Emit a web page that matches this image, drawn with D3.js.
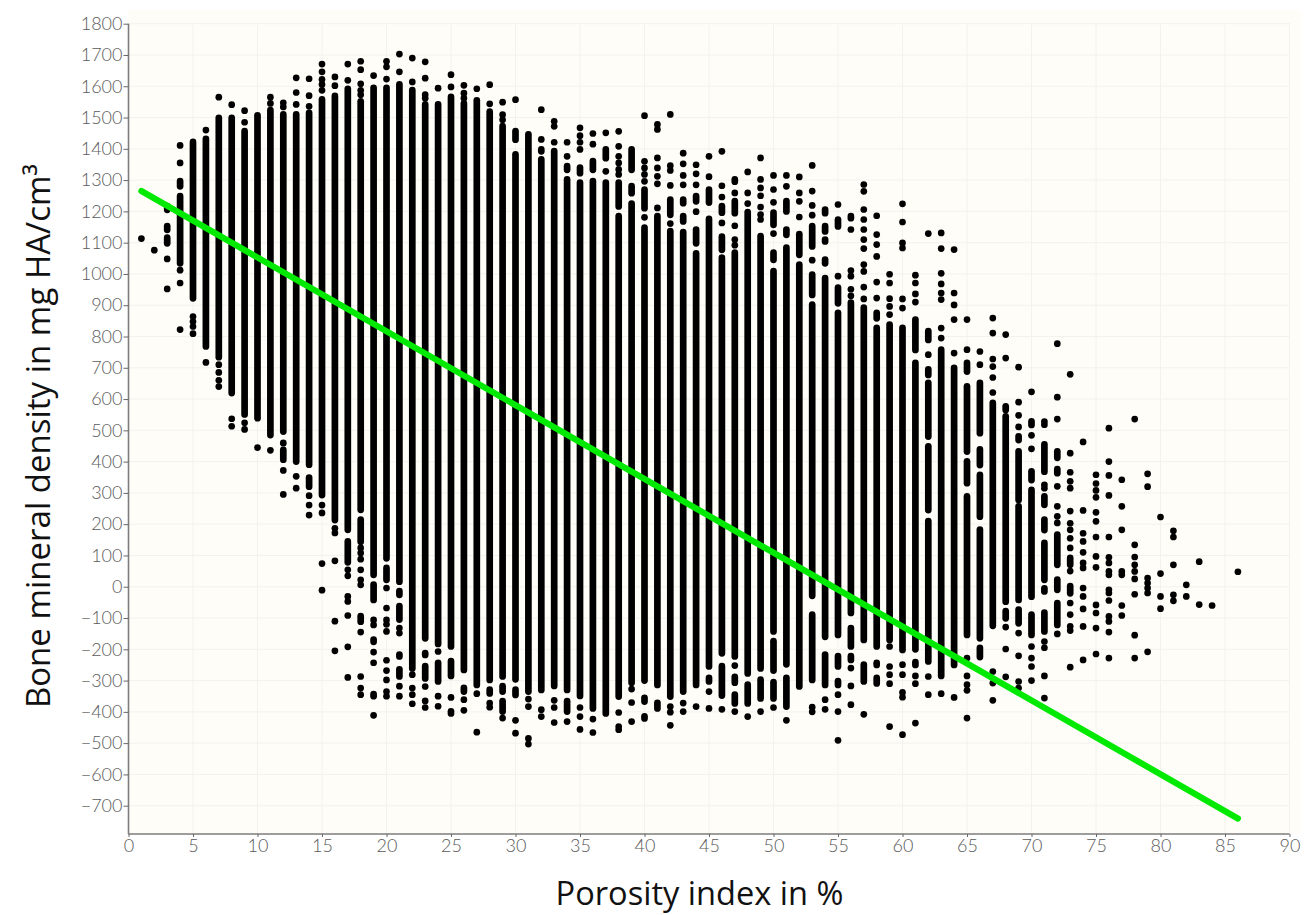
<!DOCTYPE html>
<html><head><meta charset="utf-8">
<script src="https://cdn.jsdelivr.net/npm/d3@7"></script>
<style>html,body{margin:0;background:#fff}svg{display:block}</style></head>
<body><svg id="c" width="1310" height="915"></svg>
<script>
const xTicks=d3.range(0,91,5);
const yTicks=d3.range(-700,1801,100);
const xTitle="Porosity index in %";
const yTitle="Bone mineral density in mg HA/cm³";
const regressionX=[1,86];
const regressionY=[1265,-741];
// solid runs of overlapping points: [porosity, low, high]
const runs=[
[3,1205,1217],[3,1141,1153],[3,1098,1116],[4,1280,1297],[4,1034,1249],[5,922,1422],[6,768,1432],[7,734,1499],[8,619,1499],[9,551,1457],[10,539,1507],[11,485,1524],
[12,496,1510],[12,459,460],[12,406,438],[13,400,1510],[14,390,1515],[14,320,349],[15,293,1558],[16,213,1569],[17,182,1592],[17,78,145],
[18,246,1552],[18,144,215],[18,-112,-94],[19,38,1595],[19,-42,7],[19,-176,-169],[20,91,1595],[20,22,60],[21,16,1606],[21,-26,-14],[21,-105,-62],[21,-223,-217],[21,-287,-264],
[22,-261,1588],[23,-165,1542],[23,-218,-212],[23,-293,-254],[24,-183,1542],[24,-303,-243],[25,-191,1566],[25,-285,-238],[26,-266,1545],[26,-335,-323],
[27,-314,1555],[28,-298,1519],[28,-341,-329],[29,-287,1473],[29,-335,-318],[29,-399,-366],[30,1429,1457],[30,-296,1382],[30,-346,-329],[31,-335,1446],
[32,1392,1398],[32,-330,1366],[33,-317,1393],[34,1333,1345],[34,-330,1302],[34,-399,-366],[35,1322,1340],[35,-349,1292],[36,1333,1361],[36,-389,1297],
[37,1370,1398],[37,-405,1292],[38,1216,1292],[38,-351,1185],[39,1333,1398],[39,1258,1281],[39,-307,1225],[40,1210,1270],[40,-300,1148],[40,-367,-355],[40,-421,-414],
[41,-314,1185],[41,-389,-371],[42,1189,1238],[42,-351,1137],[43,1226,1238],[43,1168,1185],[43,-335,1134],[44,1232,1249],[44,1098,1142],[44,-314,1066],
[45,1228,1270],[45,-255,1176],[45,-303,-291],[46,1196,1217],[46,1077,1119],[46,-213,1052],[46,-348,-254],[47,1295,1302],[47,1194,1233],[47,-223,1068],[47,-307,-288],[47,-373,-345],
[48,-277,1198],[48,-373,-313],[49,-261,1121],[49,-357,-297],[50,1157,1196],[50,1045,1068],[50,-143,1009],[50,-268,-174],[50,-357,-305],
[51,1200,1233],[51,1125,1142],[51,-248,1084],[51,-383,-291],[52,1061,1127],[52,-319,1030],[53,1088,1153],[53,933,998],[53,-29,902],[53,-298,-89],
[54,1194,1206],[54,1136,1153],[54,1104,1110],[54,1034,1046],[54,-160,987],[54,-314,-217],[55,1152,1174],[55,906,956],[55,-154,876],[55,-255,-222],[55,-314,-302],
[56,1178,1185],[56,-84,908],[56,-191,-132],[56,-234,-222],[57,-170,892],[57,-303,-249],[58,858,876],[58,-191,828],[58,-309,-291],[59,-170,838],[60,-202,828],
[61,757,854],[61,-200,716],[61,-250,-241],[62,789,817],[62,677,695],[62,480,652],[62,245,449],[62,-239,210],[63,-285,758],[64,-250,700],
[65,688,716],[65,432,641],[65,331,401],[65,-154,289],[66,491,652],[66,389,439],[66,224,358],[66,-165,183],[66,-225,-195],[67,-125,588],
[68,565,577],[68,-48,545],[68,-101,-78],[69,469,481],[69,277,433],[69,-42,257],[69,-117,-73],[70,517,529],[70,341,369],[70,-32,310],[70,-154,-89],
[71,368,455],[71,262,289],[71,181,215],[71,22,140],[71,-15,-5],[71,-143,-83],[72,412,433],[72,363,376],[72,70,167],[72,-10,23],[72,-122,-52],[73,70,92],[73,-21,2]
];
// isolated points: [porosity, value, value, ...]
const points=[
[1,1113],[2,1076],[3,1048,952],[4,1411,1355,1012,971,822],[5,864,848,832,809],[6,1460,717],[7,1565,710,685,660,640],[8,1541,537,513],[9,1522,1485,524,503],[10,445],[11,1565,1545,436],
[12,1547,1534,372,295],[13,1627,1580,1542,353,315],[14,1624,1570,1536,291,261,229],[15,1671,1646,1622,1606,1587,261,236,74,-11],[16,1630,1602,187,172,83,-110,-205],
[17,1671,1619,54,35,-31,-47,-92,-192,-290],[18,1680,1653,1608,1587,1573,124,108,88,54,22,6,-145,-287,-324,-345],[19,1634,-106,-122,-209,-243,-343,-350,-411],
[20,1680,1662,1623,-4,-68,-106,-120,-143,-235,-268,-298,-335,-350],[21,1703,1646,-132,-148,-318,-350],[22,1690,1614,-281,-324,-345,-374],[23,1678,1626,1573,1562,-319,-365,-386],
[24,1594,-207,-350,-382],[25,1637,1598,-354,-398,-405],[26,1603,1578,1562,-361,-395],[27,1592,-342,-465],[28,1605,1544,-372,-385],[29,1549,1509,1493,-420],[30,1557,-427,-468],
[31,-359,-383,-485,-503],[32,1525,1430,-393,-415],[33,1488,1472,1421,-363,-386,-434],[34,1421,1376,-431],[35,1467,1442,1421,1398,-386,-415,-456],[36,1449,1415,-423,-466],
[37,1451,1328],[38,1456,1408,1376,1355,1334,1318,-402,-447,-457],[39,-327,-370,-431],[40,1506,1360,1339,1318,1296,1181],[41,1478,1462,1371,1339,1312,1288,1211],
[42,1510,1346,1331,1283,1161,-383,-401,-443],[43,1386,1352,1315,1285,-372,-399],[44,1349,1320,1285,1199,-383],[45,1376,1311,-335,-389],[46,1392,1282,1246,1163,-392],
[47,1259,1154,1110,1092,-252,-399],[48,1326,1259,1225,-415],[49,1371,1302,1275,1250,1214,1190,1174,-399],[50,1315,1270,1229,1129,-386],[51,1315,1280,-427],
[52,1310,1259,1232,1182],[53,1347,1265,1219,1188,1044,-385,-400],[54,-361,-392],[55,1222,993,-345,-399,-491],[56,1142,1011,993,951,930,-260,-317,-377],
[57,1286,1264,1206,1174,1142,1110,1081,1030,1008,958,920,-408],[58,1186,1126,1094,1056,974,923,-250,-243],[59,999,971,921,896,870,-191,-255,-281,-310,-447],
[60,1224,1166,1099,1083,920,891,-249,-281,-338,-353,-473],[61,996,971,936,910,-285,-310,-436],[62,1129,742,-287,-345],[63,1131,1081,1002,968,939,918,827,795,-342],
[64,1078,939,901,854,747,-354],[65,854,758,-228,-285,-313,-331,-420],[66,752,710],[67,859,811,728,704,669,621,-271,-308,-363],[68,806,731,-129,-199,-288],
[69,702,590,548,511,-148,-221,-303,-324],[70,623,484,441,-191,-228,-255,-300],[71,528,518,326,315,-175,-195,-285,-356],[72,777,606,536,321,257,225,204,-151],
[73,679,427,366,337,315,242,203,182,155,124,50,-52,-89,-127,-140,-257],[74,463,244,171,145,110,76,60,-4,-31,-71,-127,-234],[75,358,330,308,286,238,209,159,97,62,-58,-84,-132,-215],
[76,507,400,356,292,159,94,76,49,38,-10,-20,-44,-95,-111,-145,-228],[77,342,257,182,49,38,-60,-92],[78,536,134,95,70,49,25,-24,-155,-228],[79,361,320,28,12,-4,-20,-208],
[80,223,42,-31,-70],[81,179,159,70,-26,-45],[82,6,-31],[83,80,-57],[84,-60],[86,48]
];

const svg=d3.select("#c");
const x=d3.scaleLinear().domain([0,90]).range([128.5,1289.5]);
const y=d3.scaleLinear().domain([1800,-700]).range([23.7,805.7]);
const axisBottom=834;
svg.append("rect").attr("x",128).attr("y",10).attr("width",1173).attr("height",824).attr("fill","#fffdf7");

const grid=svg.append("g").attr("stroke","#f3f2ef").attr("stroke-width",1);
grid.selectAll(".v").data(xTicks.slice(1)).join("line").attr("x1",d=>x(d)).attr("x2",d=>x(d)).attr("y1",y(1800)).attr("y2",axisBottom);
grid.selectAll(".h").data(yTicks).join("line").attr("x1",x(0)).attr("x2",x(90)).attr("y1",d=>y(d)).attr("y2",d=>y(d));

const dotR=3.35;
svg.append("g").selectAll("line").data(runs).join("line")
  .attr("x1",d=>x(d[0])).attr("x2",d=>x(d[0])).attr("y1",d=>y(d[1])).attr("y2",d=>y(d[2]))
  .attr("stroke","#000").attr("stroke-width",dotR*2).attr("stroke-linecap","round");
svg.append("g").selectAll("circle").data(points.flatMap(p=>p.slice(1).map(v=>[p[0],v]))).join("circle")
  .attr("cx",d=>x(d[0])).attr("cy",d=>y(d[1])).attr("r",dotR).attr("fill","#000");

const line=d3.line().x((d,i)=>x(regressionX[i])).y((d,i)=>y(regressionY[i]));
svg.append("path").attr("d",line(regressionX)).attr("fill","none").attr("stroke","#00e900").attr("stroke-width",6.2).attr("stroke-linecap","round");

const tickFont="Lato, sans-serif";
const ax=d3.axisBottom(x).tickValues(xTicks).tickSize(3).tickPadding(2);
const gx=svg.append("g").attr("transform",`translate(0,${axisBottom})`).call(ax);
const ay=d3.axisLeft(y).tickValues(yTicks).tickSize(5).tickPadding(1).tickFormat(d3.format("d"));
const gy=svg.append("g").attr("transform","translate(128.5,0)").call(ay);
gy.select(".domain").attr("d",`M0,${y(1800)}V${axisBottom}`);
gx.select(".domain").attr("d",`M${x(0)},0H${x(90)}`);
[gx,gy].forEach(g=>{
  g.selectAll(".domain").attr("stroke","#7d7d7d").attr("stroke-width",1.6);
  g.selectAll(".tick line").attr("stroke","#666").attr("stroke-width",1);
  g.selectAll("text").attr("fill","#5a5a5a").style("font-family",tickFont).style("font-weight",300).style("font-size","18px");
});

svg.append("text").attr("x",699.5).attr("y",905).attr("text-anchor","middle").attr("fill","#111")
  .style("font-family","'Open Sans', sans-serif").style("font-size","32.6px").text(xTitle);
svg.append("text").attr("transform","translate(50,436) rotate(-90)").attr("text-anchor","middle").attr("fill","#111")
  .style("font-family","'Open Sans', sans-serif").style("font-size","33px").text(yTitle);
</script></body></html>
